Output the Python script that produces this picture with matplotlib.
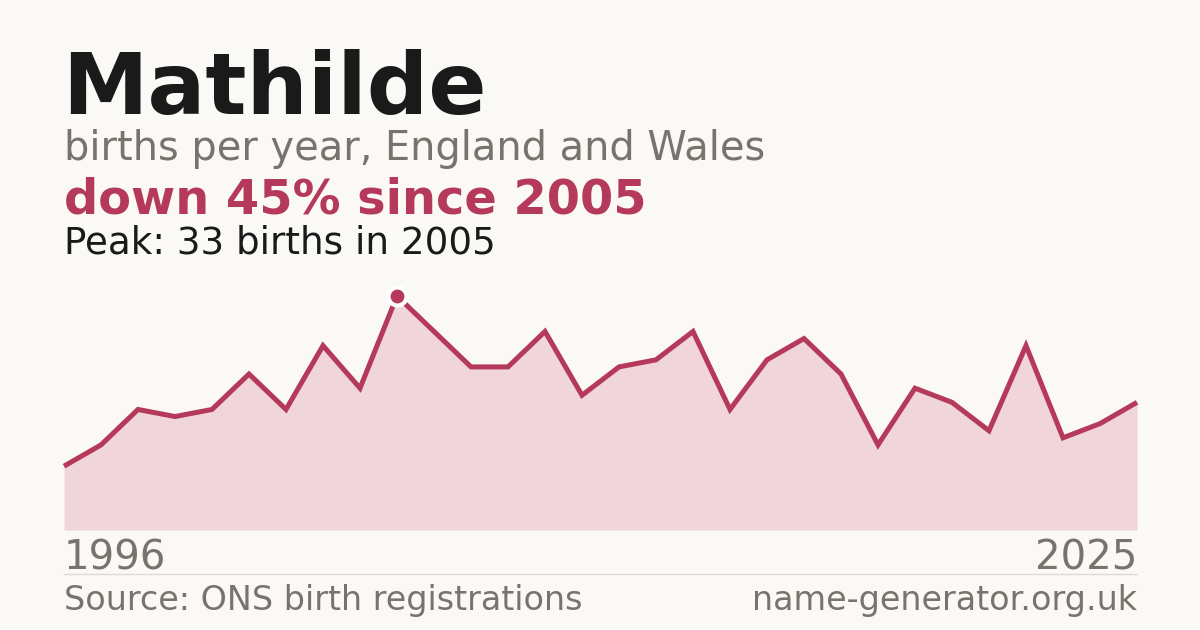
import matplotlib
matplotlib.use("Agg")
import matplotlib.pyplot as plt

# births per year for Mathilde, 1996-2025
years = list(range(1996, 2026))
births = [9, 12, 17, 16, 17, 22, 17, 26, 20, 33,
          28, 23, 23, 28, 19, 23, 24, 28, 17, 24,
          27, 22, 12, 20, 18, 14, 26, 13, 15, 18]

name = "Mathilde"
subtitle = "births per year, England and Wales"
headline = "down 45% since 2005"
peak_note = "Peak: 33 births in 2005"
source = "Source: ONS birth registrations"
site = "name-generator.org.uk"

bg = "#faf9f5"
accent = "#b5395a"
fill_col = "#f0d5db"
grey = "#78736c"
dark = "#1a1a1a"

W, H = 1200, 630
fig = plt.figure(figsize=(12, 6.3), dpi=100, facecolor=bg)

left, right = 64 / W, 1137 / W
ax = fig.add_axes([left, 1 - 530 / H, right - left, (530 - 296) / H])
ax.set_facecolor(bg)
ax.fill_between(years, births, 0, color=fill_col, lw=0)
ax.plot(years, births, color=accent, lw=3.6, solid_joinstyle="miter",
        solid_capstyle="butt", clip_on=False)
pk = births.index(max(births))
ax.plot(years[pk], births[pk], "o", ms=13, color=accent, mec="white", mew=3,
        clip_on=False, zorder=5)
ax.set_xlim(years[0], years[-1])
ax.set_ylim(0, max(births))
ax.axis("off")

def ftext(x, y, s, **kw):
    fig.text(x / W, 1 - y / H, s, va="baseline", **kw)

ftext(62, 114, name, fontsize=61.8, fontweight="bold", color=dark)
ftext(64, 160, subtitle, fontsize=28.75, color=grey)
ftext(64, 213, headline, fontsize=34.5, fontweight="bold", color=accent)
ftext(64, 254, peak_note, fontsize=26.8, color=dark)

ftext(64, 570, str(years[0]), fontsize=29, color=grey)
ftext(1137, 570, str(years[-1]), fontsize=29, color=grey, ha="right")

fig.add_artist(plt.Line2D([left, right], [1 - 574 / H] * 2, color="#dedbd4", lw=1))

ftext(64, 610, source, fontsize=24, color=grey)
ftext(1137, 610, site, fontsize=24, color=grey, ha="right")

fig.savefig("out.png", dpi=100, facecolor=bg)
